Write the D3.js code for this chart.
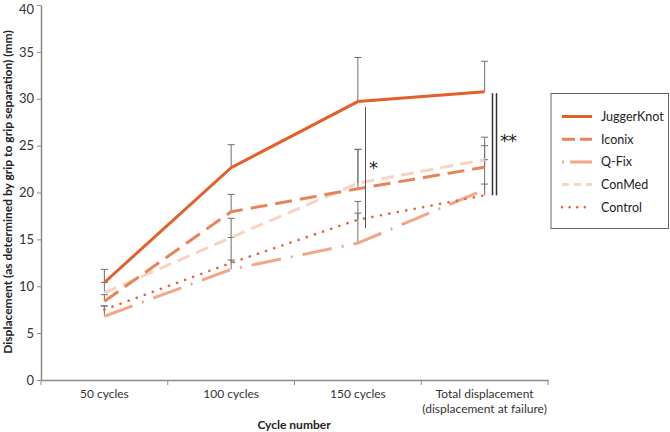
<!DOCTYPE html>
<html><head><meta charset="utf-8">
<script src="https://cdn.jsdelivr.net/npm/d3@7"></script>
<style>body{margin:0;background:#fff;} svg{font-family:Lato,"Open Sans",sans-serif;}</style>
</head><body>
<svg id="chart" width="670" height="432"></svg>
<script>
const categories = ["50 cycles", "100 cycles", "150 cycles", "Total displacement\n(displacement at failure)"];
const seriesNames = ["JuggerKnot", "Iconix", "Q-Fix", "ConMed", "Control"];
const juggerKnot = [10.4, 22.65, 29.7, 30.75];
const iconix = [8.4, 17.95, 20.4, 22.7];
const qFix = [6.8, 11.8, 14.6, 20.3];
const conMed = [9.3, 15.2, 21.0, 23.5];
const control = [7.5, 12.5, 17.1, 19.7];
const juggerKnotErr = [11.8, 25.1, 34.4, 34.0];
const iconixErr = [9.1, 19.8, 24.6, 25.0];
const qFixErr = [7.9, 12.8, 17.8, 23.5];
const conMedErr = [10.4, 17.25, 24.6, 25.9];
const controlErr = [7.9, 15.2, 19.05, 20.9];
const yTicks = [0, 5, 10, 15, 20, 25, 30, 35, 40];
const sig150 = [16.2, 29.15];
const sigTotal = [19.7, 30.6];

const colors = ["#E2602B", "#E8845B", "#F0A888", "#F8D4C2", "#E1663B"];
const dashes = ["none", "17,8", "30,10,2,10", "13,7", "0.1,8.5"];

const values = [juggerKnot, iconix, qFix, conMed, control];
const errs = [juggerKnotErr, iconixErr, qFixErr, conMedErr, controlErr];

const svg = d3.select("#chart");
const x = d3.scaleBand().domain(categories).range([41, 548]).padding(0);
const y = d3.scaleLinear().domain([0, 40]).range([380, 5]);
const axisColor = "#8a8a8a";

// Y axis
const yAxis = svg.append("g").attr("transform", "translate(41,0)")
  .call(d3.axisLeft(y).tickValues(yTicks).tickSize(4).tickSizeOuter(0));
yAxis.attr("font-family", null).attr("font-size", null);
yAxis.select(".domain").attr("stroke", axisColor).attr("stroke-width", 1.5);
yAxis.selectAll(".tick line").attr("stroke", axisColor);
yAxis.selectAll(".tick text").attr("fill", "#333").style("font-size", "13px").style("font-family", "Lato").attr("x", -7)
  .attr("dy", d => d === 40 ? "0.62em" : "0.32em");

// X axis
const xAxis = svg.append("g").attr("transform", "translate(0,380)")
  .call(d3.axisBottom(x).tickSize(0).tickSizeOuter(0).tickFormat(""));
xAxis.select(".domain").attr("stroke", axisColor).attr("stroke-width", 1.5);
const bounds = categories.map(c => x(c)).concat([x.range()[1]]);
svg.append("g").selectAll("line").data(bounds).join("line")
  .attr("x1", d => d).attr("x2", d => d).attr("y1", 380).attr("y2", 385)
  .attr("stroke", axisColor).attr("stroke-width", 1);
categories.forEach(c => {
  const lines = c.split("\n");
  const t = svg.append("text").attr("x", x(c) + x.bandwidth() / 2).attr("y", 398)
    .attr("text-anchor", "middle").attr("font-size", 12).attr("fill", "#333");
  lines.forEach((l, i) => t.append("tspan").attr("x", x(c) + x.bandwidth() / 2).attr("dy", i ? 15 : 0).text(l));
});
svg.append("text").attr("x", 294).attr("y", 429).attr("text-anchor", "middle")
  .attr("font-size", 12).attr("font-weight", "bold").attr("fill", "#222").text("Cycle number");
svg.append("text").attr("transform", "translate(12,192) rotate(-90)").attr("text-anchor", "middle")
  .attr("font-size", 12).attr("font-weight", "bold").attr("fill", "#222")
  .text("Displacement (as determined by grip to grip separation) (mm)");

const cx = c => x(c) + x.bandwidth() / 2;

// Error bars
const eb = svg.append("g");
values.forEach((vals, si) => {
  vals.forEach((v, i) => {
    const top = errs[si][i];
    const xc = cx(categories[i]);
    eb.append("line").attr("x1", xc).attr("x2", xc).attr("y1", y(v)).attr("y2", y(top))
      .attr("stroke", "#6f6f6f").attr("stroke-width", 1);
    eb.append("line").attr("x1", xc - 3.5).attr("x2", xc + 3.5).attr("y1", y(top)).attr("y2", y(top))
      .attr("stroke", "#6f6f6f").attr("stroke-width", 1);
  });
});

// Lines (draw lighter first)
const line = d3.line().x((d, i) => cx(categories[i])).y(d => y(d));
[3, 2, 1, 4, 0].forEach(si => {
  svg.append("path").datum(values[si]).attr("d", line)
    .attr("fill", "none").attr("stroke", colors[si])
    .attr("stroke-width", si === 4 ? 2.6 : 3)
    .attr("stroke-dasharray", dashes[si] === "none" ? null : dashes[si])
    .attr("stroke-linecap", si === 4 ? "round" : "butt");
});

// Significance markers
svg.append("line").attr("x1", 365.5).attr("x2", 365.5).attr("y1", y(sig150[1])).attr("y2", y(sig150[0]))
  .attr("stroke", "#555").attr("stroke-width", 1);
svg.append("text").attr("x", 369).attr("y", 174).attr("font-size", 18).style("font-family", "DejaVu Sans").attr("fill", "#222").text("*");
[492.5, 496.5].forEach(xx => svg.append("line").attr("x1", xx).attr("x2", xx)
  .attr("y1", y(sigTotal[1])).attr("y2", y(sigTotal[0])).attr("stroke", "#333").attr("stroke-width", 1.5));
svg.append("text").attr("x", 500).attr("y", 147).attr("font-size", 18).style("font-family", "DejaVu Sans")
  .attr("letter-spacing", -1).attr("fill", "#222").text("**");

// Legend
const lg = svg.append("g");
lg.append("rect").attr("x", 551).attr("y", 93.5).attr("width", 117.5).attr("height", 135)
  .attr("fill", "#fff").attr("stroke", "#666").attr("stroke-width", 1);
seriesNames.forEach((n, i) => {
  const yy = 116.5 + i * 22.7;
  lg.append("line").attr("x1", 562).attr("x2", 592).attr("y1", yy).attr("y2", yy)
    .attr("stroke", colors[i]).attr("stroke-width", i === 4 ? 2.6 : 3)
    .attr("stroke-dasharray", [null, "13,5", "2,6,20,0", "7,5", "0.1,7.5"][i])
    .attr("stroke-linecap", i === 4 ? "round" : "butt");
  lg.append("text").attr("x", 601).attr("y", yy + 4.5).attr("font-size", 12.5).attr("fill", "#222").text(n);
});
</script>
</body></html>
